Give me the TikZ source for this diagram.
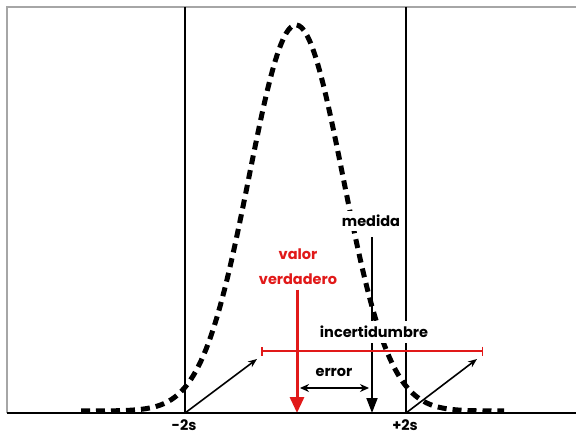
\documentclass[tikz,border=0pt]{standalone}
\usepackage{fontspec}
\setmainfont{Poppins}
\usetikzlibrary{arrows.meta}
\definecolor{vred}{RGB}{225,25,25}
\begin{document}
\begin{tikzpicture}[x=1pt,y=-1pt,
  lbl/.style={font=\fontsize{14.5}{16}\selectfont\bfseries, inner sep=1pt},
  gauss/.style={line width=5pt, dash pattern=on 9pt off 6pt},
  vline/.style={line width=1.6pt},
  arr/.style={line width=1.6pt, -{Stealth[length=9pt,width=7pt]}},
  every node/.style={text=black}]
\useasboundingbox (0,0) rectangle (576,436);
\fill[white] (0,0) rectangle (576,436);
% frame
\draw[gray!70, line width=1.2pt] (7,413) -- (7,7) -- (576,7);
% gaussian
\draw[gauss] plot[domain=81:504, samples=160] (\x, {411 - 386*exp(-0.5*((\x-296)/47)^2)});
% coordinates
\coordinate (m2) at (185,413);
\coordinate (p2) at (406,413);
\coordinate (m2t) at (185,7);
\coordinate (p2t) at (406,7);
\coordinate (ax0) at (7,413);
\coordinate (ax1) at (576,413);
\coordinate (ul) at (261,351);
\coordinate (ur) at (483,351);
\coordinate (al) at (257,359);
\coordinate (ar) at (477,359);
\coordinate (vv) at (297,413);
\coordinate (mm) at (372,413);
\coordinate (el) at (300,388);
\coordinate (er) at (369,388);
% vertical lines
\draw[vline] (m2t) -- (m2);
\draw[vline] (p2t) -- (p2);
% medida arrow
\node[lbl, fill=white, inner xsep=2pt, inner ysep=4pt] (med) at (371,221) {medida};
\draw[line width=1.8pt, -{Triangle[length=15pt,width=11pt]}] (372,237) -- (mm);
% incertidumbre
\node[lbl, fill=white, inner ysep=5pt] (inc) at (374,332) {incertidumbre};
% red uncertainty bar
\draw[vred, line width=1.5pt, |-|] (ul) -- (ur);
% arrows to bar ends
\draw[arr] (m2) -- (al);
\draw[arr] (p2) -- (ar);
% valor verdadero
\node[lbl, text=vred] (vval) at (298,254) {valor};
\node[lbl, text=vred] (vver) at (298,279) {verdadero};
\draw[vred, line width=3pt, -{Triangle[length=16pt,width=14pt]}] (vver.south -| vv) ++(0,4) -- (vv);
% error
\node[lbl] (err) at (334,372) {error};
\draw[line width=1.4pt, {Stealth[length=9pt,width=8pt]}-{Stealth[length=9pt,width=8pt]}] (el) -- (er);
% axis
\draw[line width=1.8pt] (ax0) -- (ax1);
% labels
\node[lbl] (lm) at (184,425) {-2s};
\node[lbl] (lp) at (405,425) {+2s};
\end{tikzpicture}
\end{document}
